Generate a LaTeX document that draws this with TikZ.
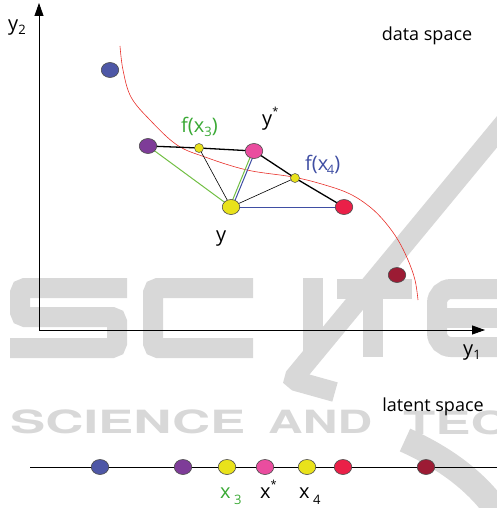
\documentclass[tikz,border=0pt]{standalone}
\usepackage{fontspec}
\setmainfont{Open Sans}
\newfontfamily\wmfont{TeX Gyre Heros}
\usetikzlibrary{arrows.meta,shapes.geometric}
\pgfdeclarelayer{wmark}
\pgfdeclarelayer{lines}
\pgfsetlayers{wmark,lines,main}
\definecolor{wmgray}{HTML}{D8D8D8}
\definecolor{cblue}{HTML}{4E57A6}
\definecolor{cpurple}{HTML}{7E3C98}
\definecolor{cyellow}{HTML}{E9E21B}
\definecolor{cpink}{HTML}{EA4D9F}
\definecolor{cred}{HTML}{EA2048}
\definecolor{cdark}{HTML}{9C1B34}
\definecolor{lgreen}{HTML}{3AA935}
\definecolor{lngreen}{HTML}{72BF44}
\definecolor{lblue}{HTML}{3F4EA3}
\definecolor{curvecol}{HTML}{E8302A}
\newcommand{\mysub}[1]{\raisebox{-0.2em}{\fontsize{13}{13}\selectfont #1}}
\newcommand{\mysubl}[1]{\raisebox{-0.3em}{\fontsize{13}{13}\selectfont #1}}
\newcommand{\mysup}[1]{\raisebox{0.5em}{\fontsize{11}{11}\selectfont #1}}
\begin{document}
\begin{tikzpicture}[x=1pt,y=-1pt,
  lbl/.style={inner sep=0pt,anchor=base west,font=\fontsize{20}{24}\selectfont},
  txt/.style={inner sep=0pt,anchor=base,font=\fontsize{18}{22}\selectfont},
  dot/.style={ellipse,draw=black!70,line width=0.6pt,inner sep=0pt,minimum width=17.5pt,minimum height=15pt},
  sdot/.style={circle,draw=black!70,line width=0.5pt,inner sep=0pt,minimum size=9pt,fill=cyellow},
  thickline/.style={draw=black,line width=1.3pt},
  thinline/.style={draw=black,line width=0.6pt},
  gline/.style={draw=lngreen,line width=1pt},
  bline/.style={draw=lblue,line width=1pt},
  wm/.style={draw=wmgray,line width=20pt,rounded corners=5pt},
  wmtxt/.style={text=wmgray,inner sep=0pt,anchor=base west,font=\wmfont\bfseries\fontsize{32}{32}\selectfont},
  axis/.style={draw=black,line width=0.8pt,-{Triangle[length=13pt,width=9pt]}}]
\useasboundingbox (0,0) rectangle (497,508);

% watermark
\begin{pgfonlayer}{wmark}
\draw[wm] (127,288) -- (20,288) -- (20,317) -- (117,317) -- (117,348) -- (10,348);
\draw[wm] (253,288) -- (153,288) -- (153,348) -- (253,348);
\draw[wm] (313,278) -- (313,357);
\draw[wm] (337,289) -- (412,289);
\draw[wm] (373,289) -- (373,357);
\draw[wm] (515,110) -- (292,380) -- (335,392);
\draw[wm,rounded corners=14pt] (505,289) -- (437,289) -- (437,347) -- (505,347);
\draw[wm] (437,318) -- (505,318);
\draw[draw=wmgray,line width=25pt] (405,440) .. controls (445,458) and (478,482) .. (500,515);
\node[wmtxt] (w1) at (10,433) {\scalebox{1.65}[1]{SCIENCE}};
\node[wmtxt] (w2) at (268,433) {\scalebox{1.5}[1]{AND}};
\node[wmtxt] (w3) at (403,434) {\scalebox{1.65}[1]{TEC}};
\end{pgfonlayer}

% axes
\coordinate (O) at (39,330);
\coordinate (Ytop) at (39,3);
\coordinate (Xend) at (485,330);
\draw[axis] (O) -- (Ytop);
\draw[axis] (O) -- (Xend);

% data space dots
\node[dot,fill=cblue] (b1) at (110,70) {};
\node[dot,fill=cpurple] (p1) at (148,146) {};
\node[sdot] (f3) at (199,148) {};
\node[dot,fill=cpink] (ys) at (254,151) {};
\node[sdot] (f4) at (295,178) {};
\node[dot,fill=cred] (r1) at (344,207) {};
\node[dot,fill=cyellow] (y0) at (231,207) {};
\node[dot,fill=cdark] (d1) at (397,275) {};

\begin{pgfonlayer}{lines}
\draw[curvecol,line width=0.6pt] plot[smooth,tension=0.6] coordinates {(120,46) (123,70) (131,97) (150,120) (177,145) (205,157) (247,170) (293,177) (325,185) (350,194) (370,207) (385,222) (398,240) (408,260) (415,280) (418,300)};
\draw[gline] (p1.center) -- (y0.center);
\draw[gline] ([xshift=-1.3pt]y0.center) -- ([xshift=-1.3pt]ys.center);
\draw[bline] ([xshift=1.3pt]y0.center) -- ([xshift=1.3pt]ys.center);
\draw[bline] (y0.center) -- (r1.center);
\draw[thinline] (f3.center) -- (y0.center);
\draw[thinline] (f4.center) -- (y0.center);
\draw[thickline] (p1.center) -- (f3.center) -- (ys.center);
\draw[thickline] (ys.center) -- (f4.center) -- (r1.center);
\end{pgfonlayer}

% labels
\node[lbl] (ly2) at (8,31) {y\mysub{2}};
\node[lbl] (ly1) at (463,355) {y\mysub{1}};
\node[txt] (ds) at (427,41) {data space};
\node[lbl,text=lgreen] (lf3) at (181,132) {f(x\mysub{3})};
\node[lbl] (lys) at (262,125) {y\mysup{*}};
\node[lbl,text=lblue] (lf4) at (305,170) {f(x\kern-1.5pt\mysub{4})};
\node[lbl] (ly) at (216,241) {y};

% latent space
\node[txt] (ls) at (433,411) {latent space};
\coordinate (L0) at (30,467);
\coordinate (L1) at (497,467);
\begin{pgfonlayer}{lines}
\draw[line width=0.8pt] (L0) -- (L1);
\end{pgfonlayer}
\node[dot,fill=cblue] (lb) at (100,467) {};
\node[dot,fill=cpurple] (lp) at (183,467) {};
\node[dot,fill=cyellow] (ly3) at (227,467) {};
\node[dot,fill=cpink] (lk) at (265,467) {};
\node[dot,fill=cyellow] (ly4) at (307,467) {};
\node[dot,fill=cred] (lr) at (343,467) {};
\node[dot,fill=cdark] (ld) at (426,467) {};
\node[lbl,text=lgreen] (tx3) at (220,498) {x\,\mysubl{3}};
\node[lbl] (txs) at (260,498) {x\mysup{*}};
\node[lbl] (tx4) at (299,498) {x\,\mysubl{4}};
\end{tikzpicture}
\end{document}
